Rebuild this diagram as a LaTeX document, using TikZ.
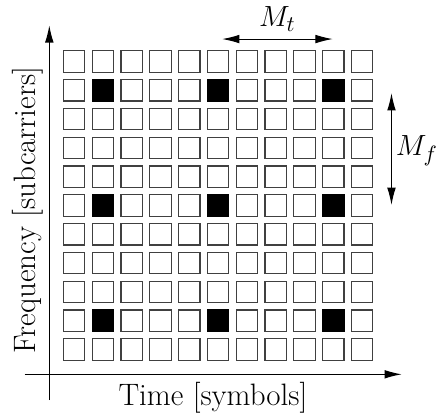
\documentclass[tikz,border=0pt]{standalone}
\usepackage{amsmath}
\usetikzlibrary{arrows.meta,positioning,calc}

\begin{document}
\begin{tikzpicture}[
    >={Latex[length=3mm, width=1.5mm]},
    cell/.style={
        rectangle, draw=black!75, line width=0.6pt,
        minimum size=0.37cm, inner sep=0pt, fill=white
    },
    pilot/.style={
        cell, draw=black, fill=black
    },
    axis/.style={->, line width=0.6pt},
    span/.style={<->, line width=0.5pt},
    lbl/.style={font=\fontsize{15.3}{18}\selectfont, inner sep=0pt}
]
    \useasboundingbox (-0.856,-0.776) rectangle (6.817,6.498);

    % Time-frequency grid with pilot symbols
    \foreach \i in {0,...,10} {
        \foreach \j in {0,...,10} {
            \pgfmathtruncatemacro{\ispilot}{and(mod(\i,4)==1, mod(\j,4)==1)}
            \ifnum\ispilot=1 \def\sty{pilot}\else\def\sty{cell}\fi
            \node [\sty] (c-\i-\j) at (0.43+0.5*\i, 0.43+0.5*\j) {};
        }
    }

    % Axes
    \coordinate (xs) at (-0.43,0);
    \coordinate (xe) at (6.12,0);
    \coordinate (ys) at (0,-0.45);
    \coordinate (ye) at (0,6.06);
    \draw [axis] (xs) -- (xe);
    \draw [axis] (ys) -- (ye);

    \node [lbl] (time) at (2.84,-0.41) {Time [symbols]};
    \node [lbl, rotate=90] (freq) at (-0.37,2.85) {Frequency [subcarriers]};

    % Pilot spacing in time
    \coordinate (mt-l) at (3.0,5.82);
    \coordinate (mt-r) at (4.92,5.82);
    \draw [span] (mt-l) -- (mt-r);
    \node [lbl] (mt) at (3.96,6.17) {$M_t$};

    % Pilot spacing in frequency
    \coordinate (mf-t) at (5.94,4.88);
    \coordinate (mf-b) at (5.94,2.94);
    \draw [span] (mf-t) -- (mf-b);
    \node [lbl] (mf) at (6.38,3.88) {$M_f$};

\end{tikzpicture}
\end{document}
